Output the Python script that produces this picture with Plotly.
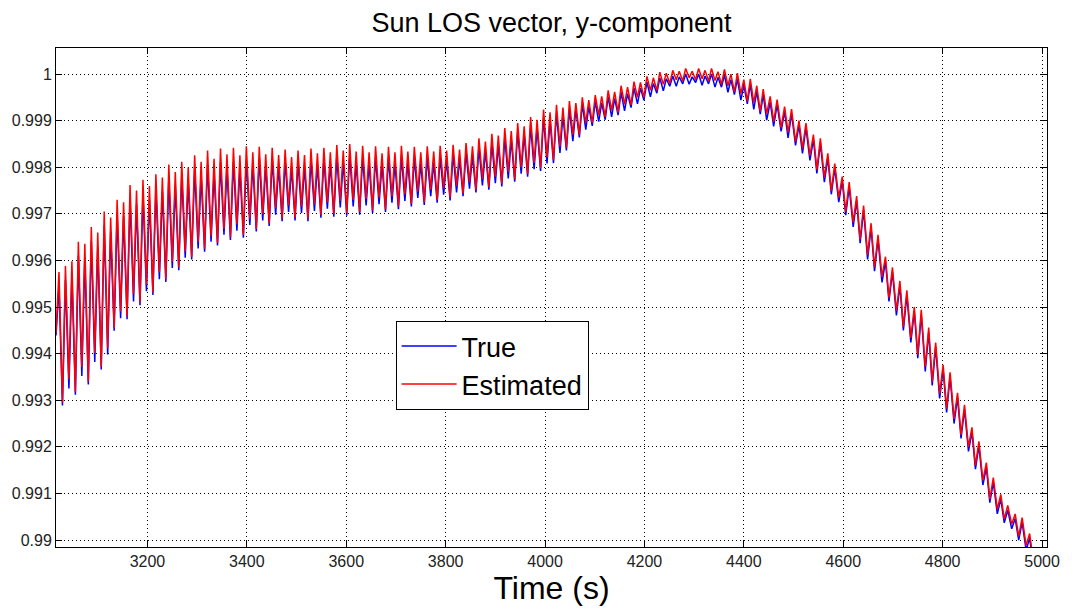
import plotly.graph_objects as go

# Time samples (s): alternating trough / peak of the oscillation
time_s = [
    3016,3022, 3029,3035, 3042,3048, 3055,3061, 3068,3074, 3081,3087, 3094,3100, 3107,3113, 3120,3126, 3133,3139,
    3146,3152, 3159,3165, 3172,3178, 3185,3191, 3198,3204, 3211,3217, 3224,3230, 3237,3243, 3250,3256, 3263,3269,
    3276,3282, 3289,3295, 3302,3308, 3315,3321, 3328,3334, 3341,3347, 3354,3360, 3367,3373, 3380,3386, 3393,3399,
    3406,3412, 3419,3425, 3432,3438, 3445,3451, 3458,3464, 3471,3477, 3484,3490, 3497,3503, 3510,3516, 3523,3529,
    3536,3542, 3549,3555, 3562,3568, 3575,3581, 3588,3594, 3601,3607, 3614,3620, 3627,3633, 3640,3646, 3653,3659,
    3666,3672, 3679,3685, 3692,3698, 3705,3711, 3718,3724, 3731,3737, 3744,3750, 3757,3763, 3770,3776, 3783,3789,
    3796,3802, 3809,3815, 3822,3828, 3835,3841, 3848,3854, 3861,3867, 3874,3880, 3887,3893, 3900,3906, 3913,3919,
    3926,3932, 3939,3945, 3952,3958, 3965,3971, 3978,3984, 3991,3997, 4004,4010, 4017,4023, 4030,4036, 4043,4049,
    4056,4062, 4069,4075, 4082,4088, 4095,4101, 4108,4114, 4121,4127, 4134,4140, 4147,4153, 4160,4166, 4173,4179,
    4186,4192, 4199,4205, 4212,4218, 4225,4231, 4238,4244, 4251,4257, 4264,4270, 4277,4283, 4290,4296, 4303,4309,
    4316,4322, 4329,4335, 4342,4348, 4355,4361, 4368,4374, 4381,4387, 4394,4400, 4407,4413, 4420,4426, 4433,4439,
    4446,4453,
    4460,4467, 4475,4482, 4489,4496, 4504,4511, 4518,4525, 4533,4540, 4547,4554, 4562,4569, 4576,4583, 4591,4598,
    4605,4612, 4620,4627, 4634,4641, 4649,4656, 4663,4670, 4678,4685, 4692,4699, 4707,4714, 4721,4728, 4736,4743,
    4750,4757, 4765,4772, 4779,4786, 4794,4801, 4808,4815, 4823,4830, 4837,4844, 4852,4859, 4866,4873, 4881,4888,
    4895,4902, 4910,4917, 4924,4931, 4939,4946, 4953,4960, 4968,4975, 4982,4990,
]

# Estimated y-component
est_y = [
    0.99445,0.99575, 0.99295,0.99588, 0.99345,0.99598, 0.99318,0.99640, 0.99372,0.99636, 0.99340,0.99672, 0.99402,0.99660, 0.99372,0.99705, 0.99412,0.99692, 0.99455,0.99730,
    0.99490,0.99725, 0.99480,0.99762, 0.99528,0.99750, 0.99510,0.99773, 0.99548,0.99760, 0.99532,0.99785, 0.99575,0.99778, 0.99560,0.99806, 0.99598,0.99790, 0.99585,0.99812,
    0.99620,0.99800, 0.99608,0.99826, 0.99640,0.99812, 0.99625,0.99836, 0.99652,0.99818, 0.99638,0.99840, 0.99668,0.99828, 0.99650,0.99842, 0.99678,0.99826, 0.99655,0.99845,
    0.99690,0.99832, 0.99668,0.99844, 0.99700,0.99828, 0.99680,0.99842, 0.99712,0.99826, 0.99690,0.99838, 0.99718,0.99822, 0.99692,0.99836, 0.99716,0.99826, 0.99690,0.99840,
    0.99720,0.99830, 0.99698,0.99842, 0.99725,0.99832, 0.99700,0.99848, 0.99728,0.99836, 0.99702,0.99850, 0.99730,0.99834, 0.99704,0.99846, 0.99732,0.99832, 0.99708,0.99845,
    0.99735,0.99830, 0.99710,0.99844, 0.99738,0.99832, 0.99716,0.99846, 0.99742,0.99834, 0.99722,0.99844, 0.99748,0.99832, 0.99725,0.99845, 0.99752,0.99834, 0.99730,0.99846,
    0.99755,0.99836, 0.99735,0.99848, 0.99760,0.99838, 0.99744,0.99852, 0.99768,0.99845, 0.99752,0.99862, 0.99775,0.99855, 0.99758,0.99872, 0.99780,0.99868, 0.99765,0.99884,
    0.99790,0.99878, 0.99775,0.99895, 0.99800,0.99888, 0.99786,0.99908, 0.99810,0.99902, 0.99798,0.99924, 0.99822,0.99918, 0.99815,0.99934, 0.99845,0.99928, 0.99842,0.99942,
    0.99870,0.99938, 0.99870,0.99950, 0.99895,0.99944, 0.99895,0.99955, 0.99912,0.99952, 0.99908,0.99965, 0.99922,0.99962, 0.99918,0.99975, 0.99935,0.99972, 0.99934,0.99984,
    0.99950,0.99982, 0.99950,0.99995, 0.99965,0.99992, 0.99965,1.00004, 0.99978,1.00002, 0.99980,1.00008, 0.99988,1.00006, 0.99985,1.00012, 0.99992,1.00006, 0.99988,1.00012,
    0.99990,1.00008, 0.99985,1.00012, 0.99986,1.00005, 0.99978,1.00010, 0.99975,1.00000, 0.99962,1.00002, 0.99958,0.99988, 0.99942,0.99990, 0.99938,0.99975, 0.99920,0.99968,
    0.99915,0.99952,
    0.99898,0.99945, 0.99885,0.99930, 0.99875,0.99925, 0.99855,0.99900, 0.99840,0.99895, 0.99825,0.99870, 0.99795,0.99862, 0.99778,0.99830, 0.99750,0.99808, 0.99735,0.99780,
    0.99705,0.99768, 0.99682,0.99738, 0.99645,0.99718, 0.99612,0.99680, 0.99585,0.99655, 0.99565,0.99608, 0.99520,0.99585, 0.99492,0.99556, 0.99458,0.99536, 0.99434,0.99500,
    0.99398,0.99494, 0.99372,0.99456, 0.99340,0.99424, 0.99314,0.99376, 0.99282,0.99360, 0.99260,0.99316, 0.99226,0.99290, 0.99200,0.99242, 0.99160,0.99212, 0.99128,0.99166,
    0.99088,0.99134, 0.99066,0.99098, 0.99045,0.99074, 0.99034,0.99056, 0.99008,0.99048, 0.98988,0.99014, 0.98960,0.98930,
]

# True y-component
true_y = [
    0.99439,0.99545, 0.99289,0.99558, 0.99325,0.99568, 0.99312,0.99610, 0.99352,0.99606, 0.99334,0.99642, 0.99382,0.99630, 0.99366,0.99675, 0.99398,0.99662, 0.99449,0.99700,
    0.99476,0.99695, 0.99474,0.99732, 0.99512,0.99720, 0.99504,0.99743, 0.99534,0.99730, 0.99526,0.99755, 0.99560,0.99748, 0.99554,0.99776, 0.99584,0.99760, 0.99579,0.99782,
    0.99606,0.99770, 0.99602,0.99796, 0.99626,0.99782, 0.99619,0.99806, 0.99640,0.99788, 0.99632,0.99810, 0.99655,0.99798, 0.99644,0.99812, 0.99664,0.99796, 0.99649,0.99815,
    0.99676,0.99808, 0.99662,0.99820, 0.99686,0.99804, 0.99674,0.99818, 0.99698,0.99802, 0.99684,0.99814, 0.99704,0.99798, 0.99686,0.99812, 0.99702,0.99802, 0.99684,0.99816,
    0.99706,0.99806, 0.99692,0.99818, 0.99711,0.99808, 0.99694,0.99824, 0.99714,0.99812, 0.99696,0.99826, 0.99716,0.99810, 0.99698,0.99822, 0.99718,0.99808, 0.99702,0.99821,
    0.99721,0.99806, 0.99704,0.99820, 0.99724,0.99808, 0.99710,0.99822, 0.99728,0.99810, 0.99716,0.99820, 0.99734,0.99808, 0.99719,0.99821, 0.99738,0.99810, 0.99724,0.99822,
    0.99741,0.99816, 0.99729,0.99828, 0.99746,0.99818, 0.99738,0.99832, 0.99754,0.99825, 0.99746,0.99842, 0.99761,0.99835, 0.99752,0.99852, 0.99766,0.99848, 0.99759,0.99864,
    0.99776,0.99860, 0.99769,0.99877, 0.99786,0.99870, 0.99780,0.99890, 0.99796,0.99884, 0.99792,0.99906, 0.99808,0.99900, 0.99809,0.99916, 0.99831,0.99910, 0.99836,0.99924,
    0.99856,0.99924, 0.99864,0.99936, 0.99881,0.99930, 0.99889,0.99941, 0.99898,0.99938, 0.99902,0.99951, 0.99908,0.99948, 0.99912,0.99961, 0.99921,0.99958, 0.99928,0.99970,
    0.99936,0.99970, 0.99944,0.99983, 0.99951,0.99980, 0.99959,0.99992, 0.99964,0.99990, 0.99974,0.99996, 0.99974,0.99994, 0.99979,1.00000, 0.99978,0.99994, 0.99982,1.00000,
    0.99976,0.99996, 0.99979,1.00000, 0.99972,0.99993, 0.99972,0.99998, 0.99961,0.99988, 0.99956,0.99990, 0.99944,0.99976, 0.99936,0.99978, 0.99924,0.99963, 0.99914,0.99956,
    0.99901,0.99940,
    0.99888,0.99935, 0.99877,0.99920, 0.99863,0.99915, 0.99847,0.99890, 0.99830,0.99885, 0.99815,0.99860, 0.99787,0.99852, 0.99768,0.99820, 0.99742,0.99798, 0.99725,0.99770,
    0.99697,0.99758, 0.99672,0.99728, 0.99637,0.99708, 0.99602,0.99670, 0.99577,0.99645, 0.99553,0.99598, 0.99512,0.99575, 0.99482,0.99546, 0.99450,0.99526, 0.99424,0.99490,
    0.99390,0.99484, 0.99362,0.99446, 0.99332,0.99414, 0.99304,0.99366, 0.99274,0.99350, 0.99250,0.99306, 0.99218,0.99280, 0.99190,0.99232, 0.99152,0.99202, 0.99118,0.99156,
    0.99080,0.99124, 0.99056,0.99088, 0.99037,0.99064, 0.99024,0.99046, 0.99000,0.99038, 0.98978,0.99004, 0.98950,0.98920,
]

x_tick_vals = [3200, 3400, 3600, 3800, 4000, 4200, 4400, 4600, 4800, 5000]
y_tick_vals = [0.99, 0.991, 0.992, 0.993, 0.994, 0.995, 0.996, 0.997, 0.998, 0.999, 1.0]
y_tick_text = ["0.99", "0.991", "0.992", "0.993", "0.994", "0.995", "0.996", "0.997", "0.998", "0.999", "1"]

FONT = "Liberation Sans, Arial, Helvetica, sans-serif"

fig = go.Figure()
fig.add_trace(go.Scatter(x=time_s, y=true_y, mode="lines", name="True",
                         line=dict(color="#0000ff", width=1.5)))
fig.add_trace(go.Scatter(x=time_s, y=est_y, mode="lines", name="Estimated",
                         line=dict(color="#ff0000", width=1.5)))

axis_common = dict(
    showline=True, linecolor="black", linewidth=1, mirror="allticks",
    ticks="inside", ticklen=6, tickcolor="black", tickwidth=1,
    showgrid=True, gridcolor="black", gridwidth=1, griddash="1px,3px",
    zeroline=False, tickfont=dict(size=16, color="#222222", family=FONT),
)

fig.update_layout(
    width=1072, height=608,
    margin=dict(l=55, r=19, t=48, b=61),
    paper_bgcolor="white", plot_bgcolor="white",
    font=dict(family=FONT, color="black"),
    title=dict(text="Sun LOS vector, y-component", x=0.5, xref="paper", xanchor="center",
               y=1 - 23 / 608, yref="container", yanchor="middle",
               font=dict(size=27, color="black", family=FONT)),
    legend=dict(x=0.3427, y=0.453, xanchor="left", yanchor="top",
                bordercolor="black", borderwidth=1, bgcolor="white",
                font=dict(size=27, color="black", family=FONT),
                itemwidth=55, tracegroupgap=0),
    showlegend=True,
)
fig.update_xaxes(range=[3016, 5010], tickvals=x_tick_vals,
                 title=dict(text="Time (s)", font=dict(size=32, color="black", family=FONT), standoff=2),
                 **axis_common)
fig.update_yaxes(range=[0.98985, 1.00056], tickvals=y_tick_vals, ticktext=y_tick_text,
                 **axis_common)

fig.write_html("out.html")
